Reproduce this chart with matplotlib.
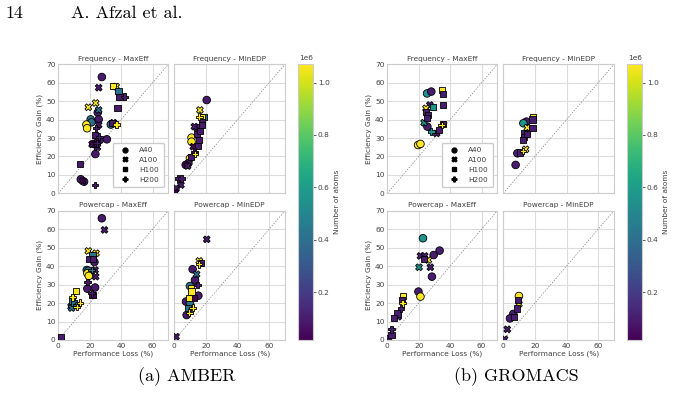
import numpy as np
import matplotlib
matplotlib.use('Agg')
import matplotlib.pyplot as plt
from matplotlib.colors import Normalize
from matplotlib.cm import ScalarMappable
from matplotlib.lines import Line2D

W, H = 673, 393

# atom counts of the benchmark systems
JAC, FIX, CEL, STMV = 23558, 90906, 408609, 1067095
GSM, GMID, GBIG = 100000, 560000, 1066628

# AMBER - Frequency - MaxEff
afm_loss = [27.7, 25.7, 34.7, 36.8, 38.3, 39.0, 42.1, 19.1, 23.8, 25.7, 25.1, 37.7, 20.6, 21.1, 17.9, 18.3, 25.7, 25.7, 33.4, 35.1,
            35.7, 37.0, 34.5, 24.0, 23.4, 26.0, 24.5, 26.4, 30.9, 24.5, 22.3, 21.5, 24.9, 23.6, 13.8, 14.3, 16.4, 15.5, 23.4]
afm_gain = [63.1, 57.3, 58.2, 57.9, 55.7, 52.1, 52.4, 46.7, 49.0, 45.2, 43.8, 46.5, 40.1, 38.5, 37.3, 35.3, 40.1, 37.1, 37.3, 38.3,
            37.6, 37.4, 38.2, 35.3, 31.8, 30.7, 29.3, 28.9, 29.3, 27.1, 26.8, 26.6, 25.0, 21.3, 15.9, 7.6, 6.3, 6.7, 4.5]
afm_gpu = ['A40', 'A100', 'H100', 'A100', 'H100', 'H100', 'H200', 'A100', 'A100', 'A100', 'A40', 'H100', 'A40', 'A40', 'A40', 'A40',
           'A40', 'A100', 'A40', 'A100', 'A100', 'H200', 'H100', 'H200', 'H100', 'H200', 'A100', 'A40', 'A40', 'H200', 'A40', 'A100',
           'A100', 'A40', 'H100', 'A40', 'A40', 'A100', 'H200']
afm_atoms = [FIX, FIX, STMV, STMV, CEL, FIX, FIX, STMV, STMV, CEL, FIX, FIX, CEL, CEL, STMV, STMV, FIX, FIX, CEL, FIX,
             STMV, STMV, FIX, FIX, FIX, FIX, JAC, FIX, FIX, FIX, FIX, JAC, FIX, FIX, FIX, FIX, FIX, JAC, FIX]

# AMBER - Frequency - MinEDP
afe_loss = [20.5, 16.2, 15.8, 18.8, 17.3, 17.3, 17.5, 12.7, 14.6, 14.3, 16.4, 10.9, 10.9, 15.6, 12.0, 15.2, 12.7, 13.1, 10.5, 9.9,
            8.9, 7.2, 8.4, 2.5, 4.6, 4.2, 1.1, 0.8]
afe_gain = [50.6, 45.2, 41.6, 41.2, 41.6, 38.9, 37.1, 36.2, 35.3, 32.2, 34.0, 30.2, 28.0, 28.9, 25.3, 25.7, 22.6, 21.3, 19.9, 19.0,
            16.3, 15.4, 14.8, 8.1, 8.1, 4.5, 2.7, 0.4]
afe_gpu = ['A40', 'A100', 'H200', 'H100', 'H100', 'H100', 'H100', 'A100', 'A40', 'H100', 'H100', 'A40', 'A40', 'H100', 'A100', 'H100',
           'H200', 'H200', 'H100', 'A40', 'A40', 'A40', 'A100', 'H200', 'H200', 'A100', 'A100', 'A100']
afe_atoms = [FIX, STMV, STMV, CEL, STMV, FIX, FIX, FIX, FIX, FIX, FIX, STMV, STMV, FIX, JAC, FIX, JAC, STMV, FIX, STMV,
             FIX, JAC, FIX, FIX, FIX, FIX, FIX, JAC]

# AMBER - Powercap - MaxEff
apm_loss = [27.7, 29.4, 19.1, 24.0, 21.7, 19.8, 22.3, 23.0, 18.1, 19.1, 21.3, 23.4, 18.5, 19.4, 23.8, 18.5, 18.5, 23.4, 21.3, 21.7,
            11.3, 9.1, 8.9, 10.0, 8.1, 8.5, 11.3, 13.8, 11.7, 1.7, 0.6]
apm_gain = [65.9, 59.6, 48.2, 47.0, 46.0, 43.7, 43.9, 42.2, 37.9, 37.5, 37.9, 37.9, 36.1, 34.7, 34.3, 31.4, 27.8, 28.4, 25.3, 24.4,
            26.4, 23.1, 21.3, 19.9, 18.1, 17.3, 18.9, 20.2, 17.9, 1.8, 0.9]
apm_gpu = ['A40', 'A100', 'A100', 'A100', 'H100', 'H100', 'H100', 'A40', 'A40', 'A40', 'H200', 'A100', 'A40', 'A40', 'A100', 'H200',
           'A40', 'A40', 'H200', 'H100', 'H100', 'H200', 'H100', 'H100', 'A100', 'A100', 'H200', 'H200', 'H200', 'H100', 'A100']
apm_atoms = [FIX, FIX, STMV, STMV, CEL, FIX, FIX, FIX, CEL, CEL, CEL, FIX, STMV, STMV, FIX, FIX, FIX, FIX, FIX, JAC,
             STMV, STMV, CEL, CEL, CEL, CEL, CEL, STMV, STMV, FIX, JAC]

# AMBER - Powercap - MinEDP
ape_loss = [20.5, 15.8, 15.6, 16.9, 11.6, 14.1, 14.6, 13.1, 9.9, 10.5, 10.9, 15.2, 12.7, 9.3, 7.4, 9.9, 8.9, 11.6, 9.5, 7.8, 1.1]
ape_gain = [54.5, 42.8, 41.0, 41.5, 38.3, 35.6, 29.8, 32.5, 29.2, 28.0, 26.2, 24.0, 22.6, 22.7, 20.8, 19.9, 17.5, 17.5, 14.8, 13.5, 1.8]
ape_gpu = ['A100', 'A100', 'H200', 'H100', 'A40', 'A100', 'H200', 'A40', 'A40', 'H100', 'H100', 'A40', 'H100', 'H100', 'A40', 'A40',
           'H100', 'H200', 'H200', 'A40', 'A100']
ape_atoms = [FIX, STMV, STMV, FIX, FIX, CEL, FIX, FIX, CEL, STMV, STMV, FIX, JAC, STMV, FIX, CEL, CEL, STMV, STMV, FIX, FIX]

# GROMACS - Frequency - MaxEff
gfm_loss = [25.3, 28.0, 35.0, 35.2, 35.2, 27.1, 29.2, 24.6, 24.6, 25.7, 25.5, 23.4, 25.5, 28.0, 31.4, 33.0, 34.7, 35.2, 19.6, 21.1]
gfm_gain = [54.2, 55.2, 56.1, 53.7, 47.9, 47.9, 47.0, 46.1, 44.3, 42.5, 40.7, 38.3, 36.2, 33.5, 32.5, 34.4, 37.1, 37.6, 26.2, 26.8]
gfm_gpu = ['A40', 'A40', 'H100', 'H100', 'H100', 'A100', 'H100', 'A100', 'H100', 'H100', 'H100', 'A100', 'A40', 'H200', 'A100',
           'H100', 'H200', 'H100', 'A40', 'A40']
gfm_atoms = [GMID, GSM, GBIG, GSM, GSM, GSM, GMID, GBIG, GSM, GSM, GSM, GMID, GSM, GMID, GSM, GSM, GBIG, GSM, GBIG, GBIG]

# GROMACS - Frequency - MinEDP
gfe_loss = [14.6, 12.7, 18.8, 18.4, 15.2, 18.4, 13.1, 13.1, 14.8, 12.7, 14.1, 12.7, 10.5, 8.9, 7.8]
gfe_gain = [38.9, 38.0, 41.2, 40.1, 35.6, 35.3, 32.5, 30.7, 32.0, 28.9, 23.9, 23.1, 22.1, 21.7, 15.4]
gfe_gpu = ['A40', 'A40', 'H100', 'H100', 'A100', 'H100', 'H100', 'H100', 'H100', 'H100', 'A100', 'H200', 'H100', 'A40', 'A40']
gfe_atoms = [GSM, GMID, GBIG, GSM, GBIG, GSM, GSM, GSM, GSM, GSM, GBIG, GBIG, GSM, GSM, GSM]

# GROMACS - Powercap - MaxEff
gpm_loss = [22.7, 33.3, 29.5, 21.1, 23.8, 23.2, 26.1, 20.2, 27.4, 28.4, 19.8, 21.1, 10.1, 9.5, 9.7, 8.7, 6.5, 6.9, 4.4, 2.7, 2.7, 1.0]
gpm_gain = [55.1, 48.4, 46.0, 45.5, 45.5, 43.7, 43.3, 39.4, 39.4, 34.3, 26.2, 23.5, 23.8, 21.7, 19.9, 17.1, 14.4, 12.6, 11.7, 5.8, 2.7, 0.7]
gpm_gpu = ['A40', 'A40', 'A40', 'A100', 'A100', 'H100', 'A100', 'A100', 'A100', 'A40', 'A40', 'A40', 'H100', 'H100', 'H200', 'H200',
           'H100', 'A100', 'H100', 'H200', 'H100', 'A100']
gpm_atoms = [GMID, GSM, GSM, GSM, GSM, GSM, GBIG, GMID, GSM, GSM, GSM, GBIG, GBIG, GSM, GBIG, GSM, GSM, GSM, GSM, GSM, GSM, GSM]

# GROMACS - Powercap - MinEDP
gpe_loss = [9.9, 9.5, 9.9, 8.9, 6.3, 7.0, 4.2, 2.5, 0.8]
gpe_gain = [23.8, 21.7, 19.5, 17.1, 14.1, 12.6, 11.7, 5.8, 0.4]
gpe_gpu = ['A40', 'H100', 'A100', 'H100', 'A40', 'H100', 'A40', 'A100', 'A100']
gpe_atoms = [GBIG, GSM, GBIG, GSM, GSM, GSM, GSM, GSM, GSM]

gpus = ['A40', 'A100', 'H100', 'H200']
markers = {'A40': 'o', 'A100': 'X', 'H100': 's', 'H200': 'P'}
sizes = {'A40': 30, 'A100': 24, 'H100': 20, 'H200': 24}
titles = ['Frequency - MaxEff', 'Frequency - MinEDP', 'Powercap - MaxEff', 'Powercap - MinEDP']

amber = [(afm_loss, afm_gain, afm_gpu, afm_atoms), (afe_loss, afe_gain, afe_gpu, afe_atoms),
         (apm_loss, apm_gain, apm_gpu, apm_atoms), (ape_loss, ape_gain, ape_gpu, ape_atoms)]
gromacs = [(gfm_loss, gfm_gain, gfm_gpu, gfm_atoms), (gfe_loss, gfe_gain, gfe_gpu, gfe_atoms),
           (gpm_loss, gpm_gain, gpm_gpu, gpm_atoms), (gpe_loss, gpe_gain, gpe_gpu, gpe_atoms)]

norm = Normalize(vmin=17000, vmax=1070000)
cmap = plt.get_cmap('viridis')

txt = '#404040'
plt.rcParams['font.family'] = 'DejaVu Sans'
plt.rcParams['font.size'] = 5.3
plt.rcParams['text.color'] = txt
plt.rcParams['axes.labelcolor'] = txt
plt.rcParams['xtick.color'] = txt
plt.rcParams['ytick.color'] = txt


def box(x0, y0, x1, y1):
    return [x0 / W, 1 - y1 / H, (x1 - x0) / W, (y1 - y0) / H]


fig = plt.figure(figsize=(W / 100, H / 100), dpi=100)

# page header
fig.text(5 / W, 1 - 13 / H, '14', family='cmr10', fontsize=13, color='black', va='center')
fig.text(71 / W, 1 - 13 / H, 'A. Afzal et al.', family='cmr10', fontsize=13, color='black', va='center')


def draw_block(data, x_off, caption, cap_x):
    cols = [(58.3 + x_off, 168.3 + x_off), (174.3 + x_off, 285 + x_off)]
    rows = [(64.3, 193.3), (210.7, 340)]
    for i, (loss, gain, gpu, atoms) in enumerate(data):
        r, c = divmod(i, 2)
        ax = fig.add_axes(box(cols[c][0], rows[r][0], cols[c][1], rows[r][1]))
        ax.grid(True, color='#dcdcdc', lw=0.8)
        ax.set_axisbelow(True)
        for sp in ax.spines.values():
            sp.set_color('#cccccc')
            sp.set_linewidth(0.8)
        ax.plot([0, 70], [0, 70], ls='--', color='gray', lw=0.5, dashes=(2, 2))
        loss = np.array(loss)
        gain = np.array(gain)
        gpu = np.array(gpu)
        atoms = np.array(atoms)
        for g in gpus:
            m = gpu == g
            ax.scatter(loss[m], gain[m], c=atoms[m], cmap=cmap, norm=norm, marker=markers[g],
                       s=sizes[g], edgecolors='black', linewidths=0.6, zorder=3)
        ax.set_xlim(0, 70)
        ax.set_ylim(0, 70)
        ax.set_xticks([0, 20, 40, 60])
        ax.set_yticks(range(0, 71, 10))
        ax.tick_params(length=0, pad=2, labelsize=5.3)
        ax.set_title(titles[i], fontsize=5.3, pad=2.5)
        if r == 0:
            ax.set_xticklabels([])
        else:
            ax.set_xlabel('Performance Loss (%)', fontsize=5.3, labelpad=1.5)
        if c == 1:
            ax.set_yticklabels([])
        else:
            ax.set_ylabel('Efficiency Gain (%)', fontsize=5.3, labelpad=2)
        if i == 0:
            handles = [Line2D([], [], ls='', marker=markers[g], color='black', markersize=3.5) for g in gpus]
            ax.legend(handles, gpus, loc='lower right', fontsize=5.3, handletextpad=1.0, borderpad=0.6,
                      labelspacing=0.5, framealpha=1, edgecolor='#cccccc', bbox_to_anchor=(0.99, 0.02))

    cax = fig.add_axes(box(298 + x_off, 64.3, 313 + x_off, 340))
    cb = fig.colorbar(ScalarMappable(norm=norm, cmap=cmap), cax=cax)
    cb.set_ticks([200000, 400000, 600000, 800000, 1000000])
    cb.outline.set_edgecolor('#cccccc')
    cb.ax.tick_params(labelsize=5.3, length=2, width=0.6, pad=1.5, color=txt)
    cb.ax.yaxis.get_offset_text().set_fontsize(5.3)
    cb.set_label('Number of atoms', fontsize=5.3, labelpad=3)

    fig.text(cap_x / W, 1 - 377 / H, caption, family='cmr10', fontsize=13, color='black', ha='center', va='center')


draw_block(amber, 0, '(a) AMBER', 187)
draw_block(gromacs, 329, '(b) GROMACS', 516)

fig.savefig('out.png', dpi=100)
